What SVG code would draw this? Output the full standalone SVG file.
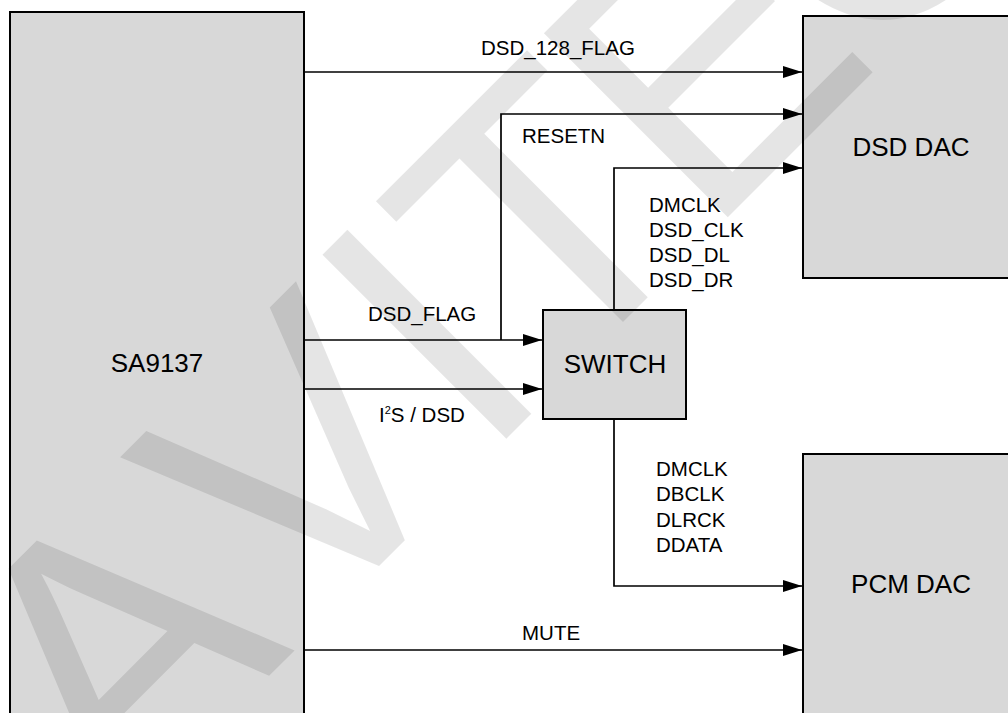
<svg xmlns="http://www.w3.org/2000/svg" width="1008" height="713" viewBox="0 0 1008 713">
<defs>
<style>
.box{fill:#d8d8d8;stroke:#000;stroke-width:2}
.big{font-family:"Liberation Sans",Arial,sans-serif;font-size:26px;fill:#000}
.lbl{font-family:"Liberation Sans",Arial,sans-serif;font-size:20.5px;fill:#000}
.wire{fill:none;stroke:#000;stroke-width:1.7}
.wm{font-family:"Liberation Sans",Arial,sans-serif;font-size:378px;fill:#000;fill-opacity:0.1}
</style>
<marker id="arr" viewBox="0 0 19 12" refX="19" refY="6" markerWidth="19" markerHeight="12" markerUnits="userSpaceOnUse" orient="auto">
<path d="M0,0 L19,6 L0,12 Z" fill="#000"/>
</marker>
</defs>
<rect width="1008" height="713" fill="#fff"/>
<g id="sa9137">
<rect class="box" x="10" y="12" width="294" height="720"/>
<text class="big" x="157" y="372" text-anchor="middle">SA9137</text>
</g>
<g id="dsd-dac">
<rect class="box" x="803" y="16" width="220" height="262"/>
<text class="big" x="911" y="156" text-anchor="middle">DSD DAC</text>
</g>
<g id="pcm-dac">
<rect class="box" x="803" y="454" width="220" height="280"/>
<text class="big" x="911" y="593" text-anchor="middle">PCM DAC</text>
</g>
<g id="switch">
<rect class="box" x="543" y="310" width="143" height="109"/>
<text class="big" x="615" y="373" text-anchor="middle">SWITCH</text>
</g>
<g id="connectors">
<path class="wire" d="M304,72 H802" marker-end="url(#arr)"/>
<path class="wire" d="M501,340 V114 H802" marker-end="url(#arr)"/>
<path class="wire" d="M304,340 H542" marker-end="url(#arr)"/>
<path class="wire" d="M304,389 H542" marker-end="url(#arr)"/>
<path class="wire" d="M614,310 V168 H802" marker-end="url(#arr)"/>
<path class="wire" d="M614,419 V586 H802" marker-end="url(#arr)"/>
<path class="wire" d="M304,650 H802" marker-end="url(#arr)"/>
</g>
<g id="labels">
<text class="lbl" x="481" y="55">DSD_128_FLAG</text>
<text class="lbl" x="522" y="143">RESETN</text>
<text class="lbl" x="649" y="212">DMCLK</text>
<text class="lbl" x="649" y="237">DSD_CLK</text>
<text class="lbl" x="649" y="262">DSD_DL</text>
<text class="lbl" x="649" y="287">DSD_DR</text>
<text class="lbl" x="368" y="321">DSD_FLAG</text>
<text class="lbl" x="379" y="422">I<tspan font-size="11px" dy="-8">2</tspan><tspan dy="8">S / DSD</tspan></text>
<text class="lbl" x="656" y="476">DMCLK</text>
<text class="lbl" x="656" y="501">DBCLK</text>
<text class="lbl" x="656" y="527">DLRCK</text>
<text class="lbl" x="656" y="552">DDATA</text>
<text class="lbl" x="522" y="640">MUTE</text>
</g>
<g id="watermark" transform="translate(472.5 472.5) rotate(-45)">
<text class="wm" x="-503 -240 13 115 330 555" y="0">AVITEC</text>
</g>
</svg>
